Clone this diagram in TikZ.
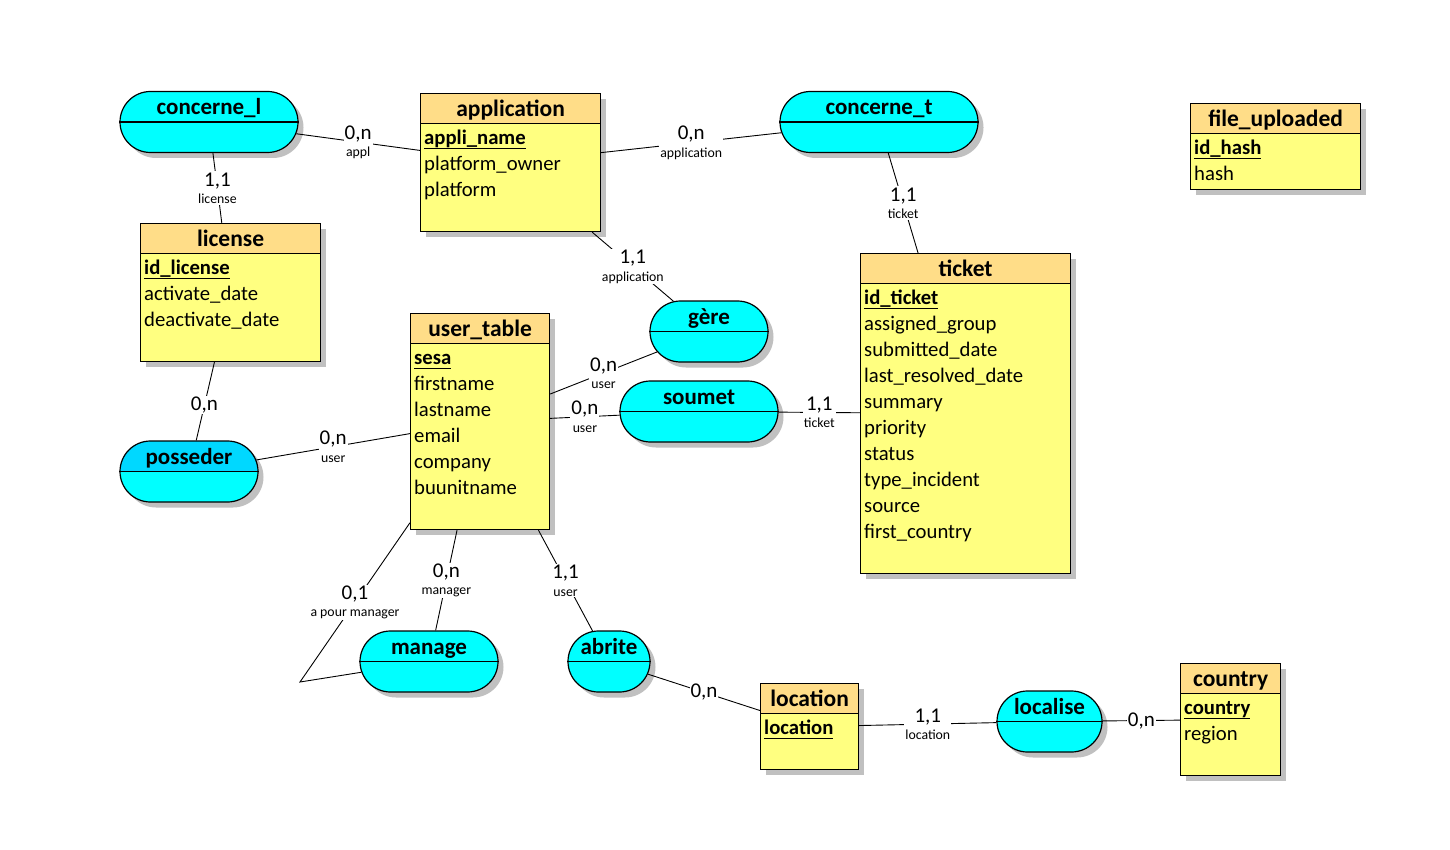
\documentclass[tikz,border=0pt]{standalone}
\usepackage{fontspec}
\setmainfont{Carlito}
\usetikzlibrary{shapes.misc,shadows}
\definecolor{headorange}{RGB}{255,221,136}
\definecolor{bodyyellow}{RGB}{255,255,128}
\definecolor{assoccyan}{RGB}{0,255,255}
\definecolor{assocblue}{RGB}{0,216,255}
\definecolor{shadowgray}{RGB}{192,192,192}
\newcommand{\pk}[1]{\setbox0\hbox{\bfseries #1}\rlap{\rule[-4.5pt]{\wd0}{1.5pt}}\box0}
\newcommand{\role}[1]{{\fontsize{13.8}{15}\selectfont #1}}

\begin{document}
\begin{tikzpicture}[x=1pt,y=-1pt,
entbody/.style={draw,line width=1.2pt,fill=bodyyellow,anchor=north west,inner sep=0pt,drop shadow={shadow xshift=5.5pt,shadow yshift=-5.5pt,fill=shadowgray,opacity=1}},
enthead/.style={draw,line width=1.2pt,fill=headorange,anchor=north west,inner sep=0pt,minimum height=30pt,text height=18pt,text depth=2pt,font=\fontsize{23.5}{26}\selectfont\bfseries},
attrs/.style={anchor=north west,align=left,inner sep=0pt,yshift=-2pt,font=\fontsize{20.7}{26}\selectfont},
assoc/.style={rounded rectangle,draw,line width=1.2pt,fill=assoccyan,minimum height=61pt,inner sep=0pt,drop shadow={shadow xshift=5.5pt,shadow yshift=-5.5pt,fill=shadowgray,opacity=1}},
assoctitle/.style={anchor=base,inner sep=0pt,font=\fontsize{23}{26}\selectfont\bfseries},
card/.style={fill=white,inner sep=1pt,align=center,font=\fontsize{21}{17.5}\selectfont},
link/.style={line width=0.9pt}]
\useasboundingbox (0,0) rectangle (1450,850);

% entities
\node[entbody,minimum width=180pt,minimum height=138pt] (application) at (420,93) {};
\node[enthead,minimum width=180pt] (application-h) at (application.north west) {application};
\node[attrs] (application-a) at ([xshift=4pt]application-h.south west) {\strut\pk{appli\_name}\\platform\_owner\\platform};

\node[entbody,minimum width=180pt,minimum height=138pt] (license) at (140,223) {};
\node[enthead,minimum width=180pt] (license-h) at (license.north west) {license};
\node[attrs] (license-a) at ([xshift=4pt]license-h.south west) {\strut\pk{id\_license}\\activate\_date\\deactivate\_date};

\node[entbody,minimum width=139pt,minimum height=216pt] (user) at (410,313) {};
\node[enthead,minimum width=139pt] (user-h) at (user.north west) {user\_table};
\node[attrs] (user-a) at ([xshift=4pt]user-h.south west) {\strut\pk{sesa}\\firstname\\lastname\\email\\company\\buunitname};

\node[entbody,minimum width=210pt,minimum height=320pt] (ticket) at (860,253) {};
\node[enthead,minimum width=210pt] (ticket-h) at (ticket.north west) {ticket};
\node[attrs] (ticket-a) at ([xshift=4pt]ticket-h.south west) {\strut\pk{id\_ticket}\\assigned\_group\\submitted\_date\\last\_resolved\_date\\summary\\priority\\status\\type\_incident\\source\\first\_country};

\node[entbody,minimum width=170pt,minimum height=86pt] (file) at (1190,103) {};
\node[enthead,minimum width=170pt] (file-h) at (file.north west) {file\_uploaded};
\node[attrs] (file-a) at ([xshift=4pt]file-h.south west) {\strut\pk{id\_hash}\\hash};

\node[entbody,minimum width=98pt,minimum height=86pt] (location) at (760,683) {};
\node[enthead,minimum width=98pt] (location-h) at (location.north west) {location};
\node[attrs] (location-a) at ([xshift=4pt]location-h.south west) {\strut\pk{location}};

\node[entbody,minimum width=100pt,minimum height=112pt] (country) at (1180,663) {};
\node[enthead,minimum width=100pt] (country-h) at (country.north west) {country};
\node[attrs] (country-a) at ([xshift=4pt]country-h.south west) {\strut\pk{country}\\region};

% associations
\node[assoc,minimum width=178pt] (concl) at (209,122) {};
\node[assoc,minimum width=198pt] (conct) at (879,122) {};
\node[assoc,minimum width=118pt] (gere) at (709,331.5) {};
\node[assoc,minimum width=158pt] (soumet) at (699,411.5) {};
\node[assoc,minimum width=138pt,path picture={\fill[assocblue] (path picture bounding box.north west) rectangle (path picture bounding box.east);}] (posseder) at (189,471.5) {};
\node[assoc,minimum width=138pt] (manage) at (429,661.5) {};
\node[assoc,minimum width=82pt] (abrite) at (609,661.5) {};
\node[assoc,minimum width=105pt] (localise) at (1049.5,721.5) {};
\foreach \a in {concl,conct,gere,soumet,posseder,manage,abrite,localise}
\draw[line width=1.2pt] (\a.west) -- (\a.east);
\node[assoctitle] (concl-t) at ([yshift=7pt]concl.center) {concerne\_l};
\node[assoctitle] (conct-t) at ([yshift=7pt]conct.center) {concerne\_t};
\node[assoctitle] (gere-t) at ([yshift=7pt]gere.center) {gère};
\node[assoctitle] (soumet-t) at ([yshift=7pt]soumet.center) {soumet};
\node[assoctitle] (posseder-t) at ([yshift=7pt]posseder.center) {posseder};
\node[assoctitle] (manage-t) at ([yshift=7pt]manage.center) {manage};
\node[assoctitle] (abrite-t) at ([yshift=7pt]abrite.center) {abrite};
\node[assoctitle] (localise-t) at ([yshift=7pt]localise.center) {localise};

% links
\coordinate (mgrcorner) at (300,682);
\draw[link] (concl) -- node[card] {0,n\\\role{appl}} (application);
\draw[link] (concl) -- node[card] {1,1\\\role{license}} (license);
\draw[link] (application) -- node[card] {0,n\\\role{application}} (conct);
\draw[link] (conct) -- node[card] {1,1\\\role{ticket}} (ticket);
\draw[link] (application) -- node[card] {1,1\\\role{application}} (gere);
\draw[link] (user) -- node[card] {0,n\\\role{user}} (gere);
\draw[link] (user) -- node[card] {0,n\\\role{user}} (soumet);
\draw[link] (soumet) -- node[card] {1,1\\\role{ticket}} (ticket);
\draw[link] (license) -- node[card,pos=0.55] {0,n} (posseder);
\draw[link] (posseder) -- node[card] {0,n\\\role{user}} (user);
\draw[link] (user) -- node[card] {0,n\\\role{manager}} (manage);
\draw[link] (user) -- node[card] {0,1\\\role{a pour manager}} (mgrcorner) -- (manage);
\draw[link] (user) -- node[card] {1,1\\\role{user}} (abrite);
\draw[link] (abrite) -- node[card] {0,n} (location);
\draw[link] (location) -- node[card] {1,1\\\role{location}} (localise);
\draw[link] (localise) -- node[card] {0,n} (country);
\end{tikzpicture}
\end{document}
